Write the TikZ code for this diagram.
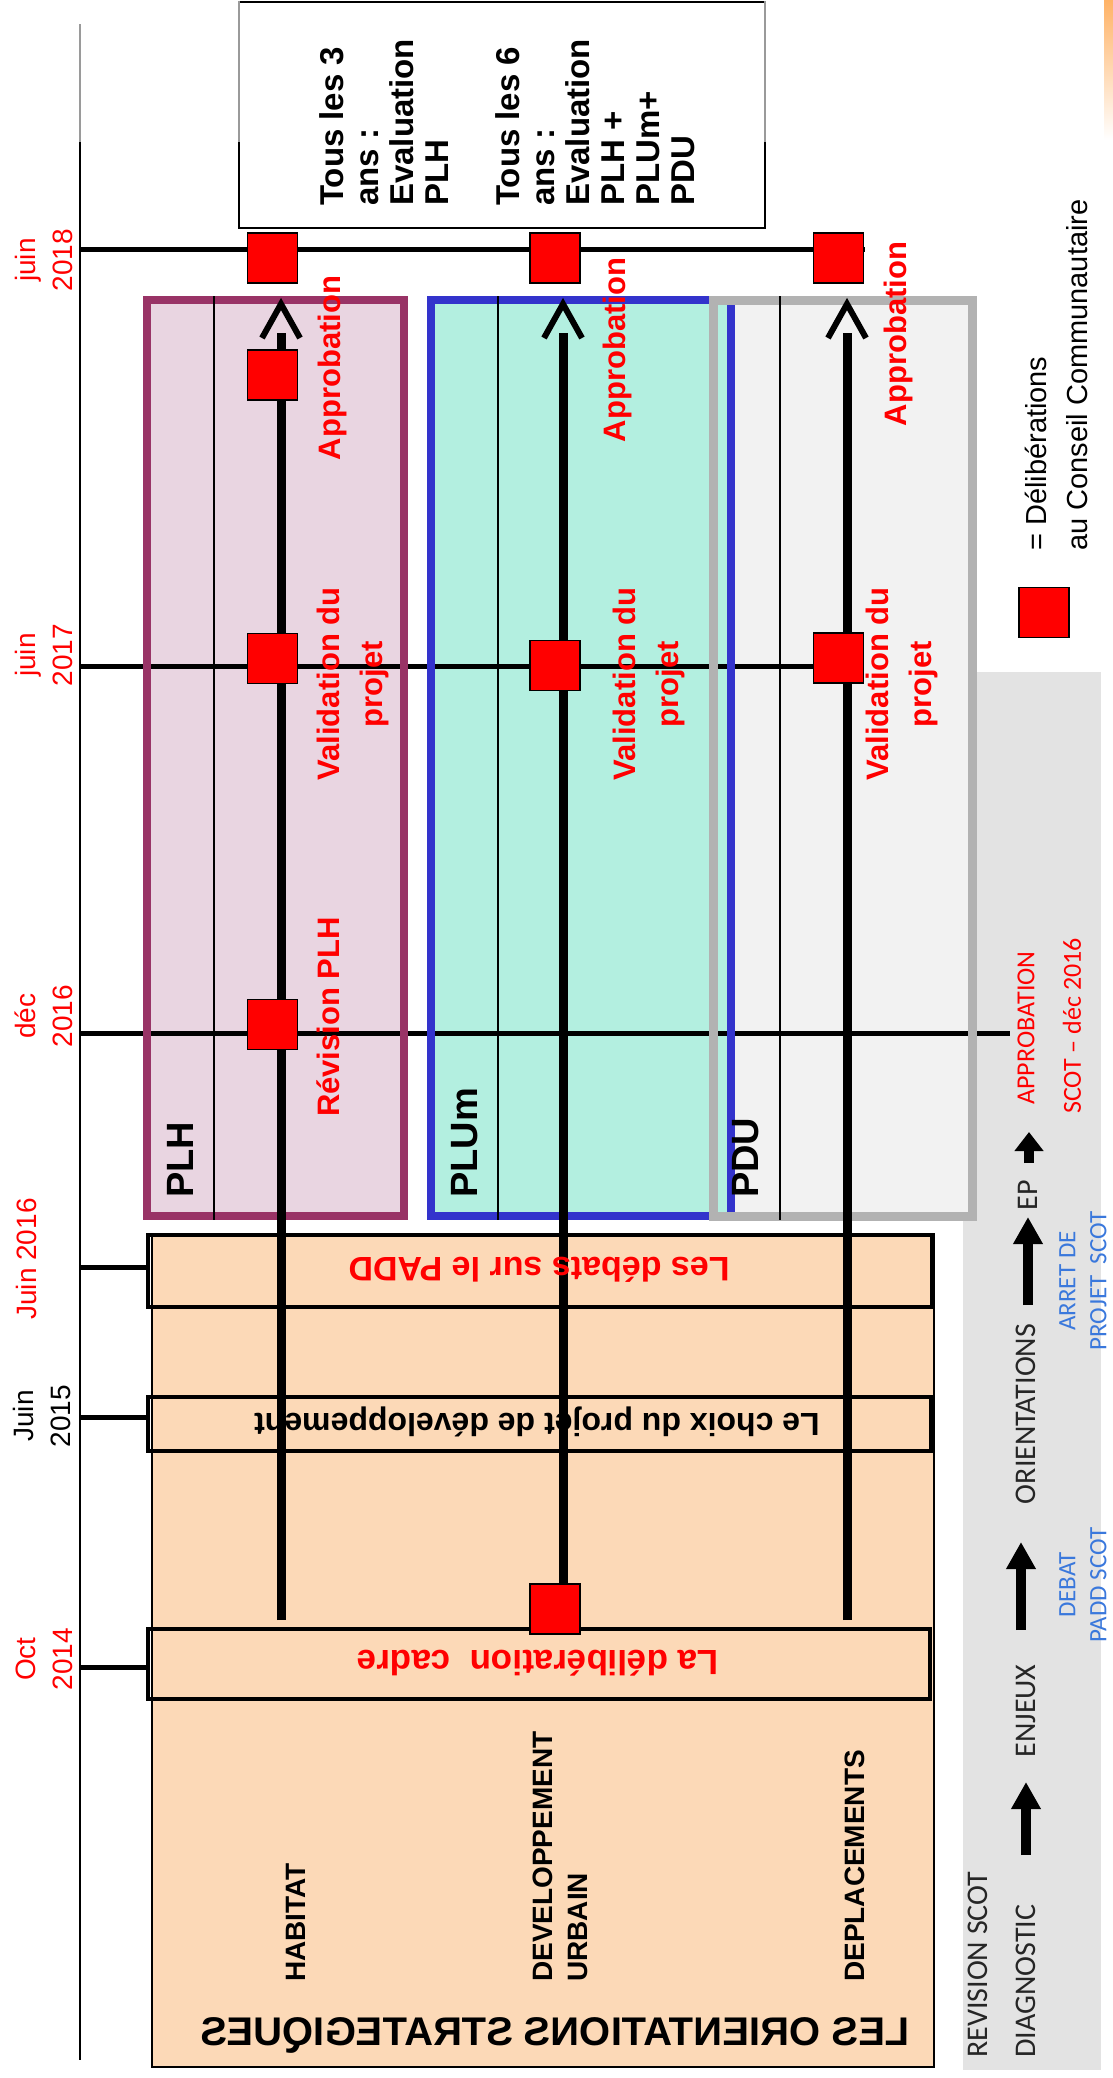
\documentclass[tikz,border=0pt]{standalone}
\usepackage{fontspec}
\setmainfont{Liberation Sans}
\newfontfamily\calib{Carlito}
\usepackage{graphicx}
\usetikzlibrary{arrows.meta}
\definecolor{plhborder}{HTML}{993366}
\definecolor{plhfill}{HTML}{E9D5E1}
\definecolor{plumborder}{HTML}{3333CC}
\definecolor{plumfill}{HTML}{B3EFE0}
\definecolor{pduborder}{HTML}{B2B2B2}
\definecolor{pdufill}{HTML}{F2F2F2}
\definecolor{peach}{HTML}{FCD9B7}
\definecolor{scotgrey}{HTML}{E3E3E3}
\definecolor{scotblue}{HTML}{3A78DC}
\definecolor{myred}{HTML}{FF0000}
\definecolor{axisgrey}{HTML}{9A9A9A}
\newcommand{\fsz}[2]{\fontsize{#1}{#2}\selectfont}
\begin{document}
\begin{tikzpicture}[x=1pt,y=-1pt,
  datelbl/.style={rotate=90,inner sep=0pt,align=center,font=\fsz{28}{37},text=myred},
  tboxtxt/.style={rotate=90,anchor=west,inner sep=0pt,align=left,font=\bfseries\fsz{33}{35}},
  boxlbl/.style={rotate=90,anchor=west,inner sep=0pt,font=\bfseries\fsz{38}{40}},
  redlbl/.style={rotate=90,inner sep=0pt,align=center,font=\bfseries\fsz{31}{43},text=myred},
  flipped/.style={rotate=180,inner sep=0pt},
  theme/.style={rotate=90,anchor=west,inner sep=0pt,align=left,font=\bfseries\fsz{28}{35}},
  scottxt/.style={rotate=90,inner sep=0pt,font=\calib\fsz{30}{32},text=black!85},
  scotred/.style={rotate=90,inner sep=0pt,font=\calib\fsz{26}{30},text=myred},
  scotbl/.style={rotate=90,inner sep=0pt,align=center,font=\calib\fsz{25}{31},text=scotblue},
  delib/.style={draw=black,line width=1.5pt,fill=myred,minimum size=50pt,inner sep=0pt},
  traj/.style={line width=9pt},
  chev/.style={line width=6pt},
  dateline/.style={line width=5pt},
  axisline/.style={line width=2.5pt},
  bigarrow/.style={line width=10pt,-{Triangle[width=28pt,length=27pt]}}
]
\useasboundingbox (0,0) rectangle (1113,2078);

% small artefact top right
\shade[top color=orange!60!white,bottom color=white] (1104,0) rectangle (1113,140);

% SCOT panel
\fill[scotgrey] (963,672) rectangle (1101,2070);

% top box
\draw[axisline] (239,2) rectangle (765,228);
\draw[axisline,axisgrey] (239,0.8) -- (239,142);
\draw[axisline,axisgrey] (765,0.8) -- (765,142);

% axis
\coordinate (axtop) at (80,24);
\coordinate (axmid) at (80,142);
\coordinate (axbot) at (80,2060);
\draw[axisline] (axtop) -- (axbot);
\draw[axisline,axisgrey] (axtop) -- (axmid);

% orange area
\filldraw[fill=peach,line width=2pt] (152,1234) rectangle (934,2067);
\draw[line width=4pt] (148,1235) rectangle (932,1307);
\draw[line width=3.5pt] (148,1397) rectangle (931,1451);
\draw[line width=4pt] (148,1629) rectangle (930,1699);

% plan boxes fills
\fill[plhfill] (147,300) rectangle (404,1216);
\fill[plumfill] (431,300) rectangle (731,1216);
\fill[pdufill] (735,300) rectangle (973,1216);

% date lines
\coordinate (j18a) at (80,249);  \coordinate (j18b) at (865,249);
\coordinate (j17a) at (80,666);  \coordinate (j17b) at (838,666);
\coordinate (d16a) at (80,1033); \coordinate (d16b) at (1010,1033);
\draw[dateline] (j18a) -- (j18b);
\draw[dateline] (j17a) -- (j17b);
\draw[dateline] (d16a) -- (d16b);

% plan boxes borders
\draw[line width=8pt,plhborder] (147,300) rectangle (404,1216);
\draw[line width=8pt,plumborder] (431,300) rectangle (731,1216);
\draw[line width=9pt,pduborder] (713.5,300.5) rectangle (972.5,1216.5);
\draw[line width=2pt] (214,296) -- (214,1220);
\draw[line width=2pt] (498,296) -- (498,1220);
\draw[line width=2pt] (780,296) -- (780,1220);

% ticks
\coordinate (t16a) at (80,1267); \coordinate (t16b) at (148,1267);
\coordinate (t15a) at (80,1417); \coordinate (t15b) at (148,1417);
\coordinate (t14a) at (80,1667); \coordinate (t14b) at (148,1667);
\draw[dateline] (t16a) -- (t16b);
\draw[dateline] (t15a) -- (t15b);
\draw[dateline] (t14a) -- (t14b);

% trajectories
\coordinate (plhtop) at (281,333);  \coordinate (plhbot) at (281,1620);
\coordinate (plumtop) at (563,333); \coordinate (plumbot) at (563,1600);
\coordinate (pdutop) at (847,333);  \coordinate (pdubot) at (847,1620);
\draw[traj] (plhbot) -- (plhtop);
\draw[traj] (plumbot) -- (plumtop);
\draw[traj] (pdubot) -- (pdutop);
\draw[chev] (262,338) -- (281,304) -- (300,338);
\draw[chev] (544,338) -- (563,304) -- (582,338);
\draw[chev] (828,338) -- (847,304) -- (866,338);

% deliberation squares
\node[delib] (plh18) at (272.5,258) {};
\node[delib] (plhap) at (272.5,375) {};
\node[delib] (plh17) at (272.5,658.5) {};
\node[delib] (plh16) at (272.5,1024.5) {};
\node[delib] (plum18) at (555,258) {};
\node[delib] (plum17) at (555,665.5) {};
\node[delib] (plum14) at (555,1609) {};
\node[delib] (pdu18) at (838.5,258) {};
\node[delib] (pdu17) at (838.5,658) {};
\node[delib] (legsq) at (1044,612.5) {};

% date labels
\node[datelbl] (lj18) at (44,260) {juin\\2018};
\node[datelbl] (lj17) at (44,655) {juin\\2017};
\node[datelbl] (ld16) at (44,1016) {déc\\2016};
\node[datelbl] (lJ16) at (26,1259) {Juin 2016};
\node[datelbl,text=black] (lj15) at (42,1416) {Juin\\2015};
\node[datelbl] (lo14) at (44,1659) {Oct\\2014};

% top box text
\node[tboxtxt] (tb3) at (384,206) {Tous les 3\\ans :\\Evaluation\\PLH};
\node[tboxtxt] (tb6) at (595,206) {Tous les 6\\ans :\\Evaluation\\PLH +\\PLUm+\\PDU};

% plan labels
\node[boxlbl] (lplh) at (180,1198) {PLH};
\node[boxlbl] (lplum) at (465,1198) {PLUm};
\node[boxlbl] (lpdu) at (746,1198) {PDU};

% red step labels
\node[redlbl] (apl) at (332,368) {Approbation};
\node[redlbl] (apm) at (617,350) {Approbation};
\node[redlbl] (apd) at (898,334) {Approbation};
\node[redlbl] (vall) at (353,684) {Validation du\\projet};
\node[redlbl] (valm) at (649,684) {Validation du\\projet};
\node[redlbl] (vald) at (902,684) {Validation du\\projet};
\node[redlbl] (rev) at (328,1017) {Révision PLH};

% orange area texts
\node[flipped,font=\bfseries\fsz{34}{40},text=myred] (padd) at (539,1270) {Les débats sur le PADD};
\node[flipped,font=\bfseries\fsz{32}{38}] (choix) at (537,1422) {Le choix du projet de développement};
\node[flipped,font=\bfseries\fsz{35}{40},text=myred] (cadre) at (538,1663) {La délibération\ \ cadre};
\node[theme] (hab) at (296,1982) {HABITAT};
\node[theme] (dev) at (560,1982) {DEVELOPPEMENT\\URBAIN};
\node[theme] (dep) at (855,1982) {DEPLACEMENTS};
\node[inner sep=0pt,font=\bfseries\fsz{40}{44}] (titre) at (555,2035) {\reflectbox{LES ORIENTATIONS STRATEGIQUES}};

% SCOT panel texts
\node[scottxt,anchor=west] (revscot) at (978,2058) {REVISION SCOT};
\node[scottxt,anchor=west] (diag) at (1026,2058) {DIAGNOSTIC};
\node[scottxt] (enj) at (1026,1711) {ENJEUX};
\node[scottxt] (ori) at (1026,1414) {ORIENTATIONS};
\node[scottxt] (ep) at (1028,1195) {EP};
\node[scotred] (appr) at (1026,1028) {APPROBATION};
\node[scotred] (scotdec) at (1072,1026) {SCOT – déc 2016};
\node[scotbl] (arret) at (1083,1281) {ARRET DE\\PROJET\ \ SCOT};
\node[scotbl] (debat) at (1083,1585) {DEBAT\\PADD SCOT};

\coordinate (a1s) at (1026,1855); \coordinate (a1e) at (1026,1782);
\coordinate (a2s) at (1021,1630); \coordinate (a2e) at (1021,1542);
\coordinate (a3s) at (1028,1305); \coordinate (a3e) at (1028,1217);
\coordinate (a4s) at (1029,1163); \coordinate (a4e) at (1029,1132);
\draw[bigarrow] (a1s) -- (a1e);
\draw[bigarrow] (a2s) -- (a2e);
\draw[bigarrow] (a3s) -- (a3e);
\draw[line width=10pt,-{Triangle[width=28pt,length=19pt]}] (a4s) -- (a4e);

% legend
\node[rotate=90,anchor=west,align=left,inner sep=0pt,font=\fsz{29}{41}] (legtxt) at (1056,551) {= Délibérations\\au Conseil Communautaire};
\end{tikzpicture}
\end{document}
